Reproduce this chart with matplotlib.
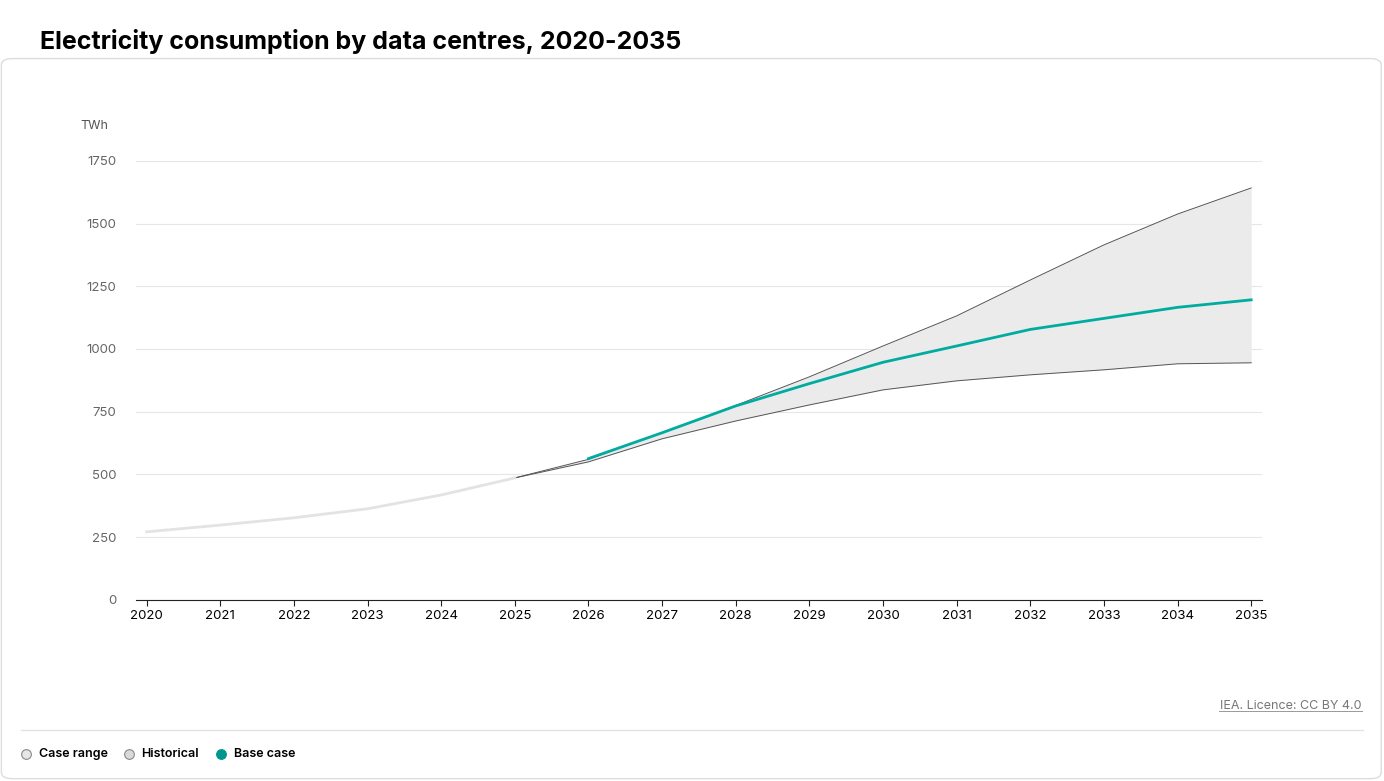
import matplotlib
matplotlib.use("Agg")
import matplotlib.pyplot as plt
from matplotlib.patches import FancyBboxPatch

hist_years = [2020, 2021, 2022, 2023, 2024, 2025]
hist_vals = [271, 298, 327, 363, 418, 486]
range_years = list(range(2025, 2036))
range_low = [486, 550, 642, 713, 777, 837, 873, 897, 917, 941, 945]
range_high = [486, 560, 666, 775, 889, 1012, 1132, 1275, 1415, 1538, 1642]
base_years = list(range(2026, 2036))
base_vals = [563, 666, 773, 862, 947, 1012, 1078, 1122, 1166, 1196]
yticks = [0, 250, 500, 750, 1000, 1250, 1500, 1750]

plt.rcParams['font.family'] = ['Inter', 'DejaVu Sans']
fig = plt.figure(figsize=(13.84, 7.81), dpi=100)
fig.patches.append(FancyBboxPatch((0.001, 0.003), 0.997, 0.922, boxstyle="round,pad=0,rounding_size=0.008",
                                  transform=fig.transFigure, fc='white', ec='#dddddd', lw=1, zorder=-10))
fig.text(0.029, 0.937, "Electricity consumption by data centres, 2020-2035", fontsize=18, fontweight='bold')

ax = fig.add_axes([0.098, 0.232, 0.814, 0.562])
ax.patch.set_alpha(0)
ax.fill_between(range_years, range_low, range_high, color='#ebebeb', lw=0)
ax.plot(range_years, range_low, color='#555555', lw=0.7)
ax.plot(range_years, range_high, color='#555555', lw=0.7)
ax.plot(hist_years, hist_vals, color='#e3e3e3', lw=2)
ax.plot(base_years, base_vals, color='#00aba0', lw=2)
ax.set_xlim(2019.85, 2035.15)
ax.set_ylim(0, 1750)
ax.set_yticks(yticks)
ax.set_yticklabels([str(v) for v in yticks], color='#666666', fontsize=9.5)
ax.set_xticks(range(2020, 2036))
ax.set_xticklabels([str(v) for v in range(2020, 2036)], fontsize=9.5)
ax.grid(axis='y', color='#e6e6e6', lw=0.8)
ax.set_axisbelow(True)
for s in ['top', 'right', 'left']:
    ax.spines[s].set_visible(False)
ax.spines['bottom'].set_color('#222222')
ax.tick_params(axis='y', length=0, pad=14)
ax.tick_params(axis='x', length=4, color='#222222')
fig.text(0.058, 0.835, "TWh", fontsize=9, color='#555555')

fig.text(0.984, 0.092, "IEA. Licence: CC BY 4.0", fontsize=9, color='#777777', ha='right')
fig.add_artist(plt.Line2D([0.881, 0.984], [0.0895, 0.0895], color='#999999', lw=0.7, transform=fig.transFigure))
fig.add_artist(plt.Line2D([0.015, 0.985], [0.065, 0.065], color='#e3e3e3', lw=1, transform=fig.transFigure))
items = [("Case range", '#e6e6e6'), ("Historical", '#d9d9d9'), ("Base case", '#00968c')]
xs = [0.019, 0.093, 0.160]
for (lab, c), x in zip(items, xs):
    fig.add_artist(plt.Line2D([x], [0.034], marker='o', ms=7, mfc=c, mec='#888888' if c != '#00968c' else c,
                              mew=0.8, transform=fig.transFigure))
    fig.text(x + 0.009, 0.034, lab, fontsize=9, fontweight='semibold', va='center')
fig.savefig("out.png", dpi=100)
